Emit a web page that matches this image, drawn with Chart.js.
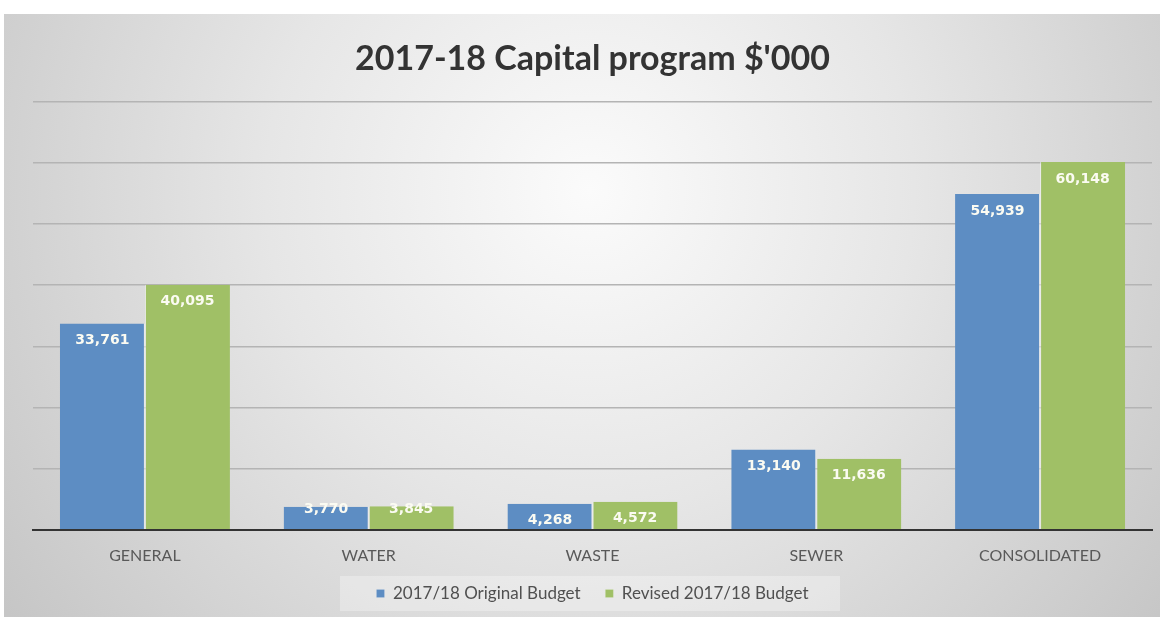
<!DOCTYPE html>
<html>
<head>
<meta charset="utf-8">
<script src="https://cdn.jsdelivr.net/npm/chart.js@4"></script>
<style>
  html, body { margin: 0; padding: 0; background: #fff; }
  #wrap { width: 1160px; height: 617px; }
</style>
</head>
<body>
<div id="wrap"><canvas id="myChart"></canvas></div>
<script>
const categories = ['GENERAL', 'WATER', 'WASTE', 'SEWER', 'CONSOLIDATED']
const originalBudget = [33761, 3770, 4268, 13140, 54939]
const revisedBudget = [40095, 3845, 4572, 11636, 60148]
const seriesNames = ['2017/18 Original Budget', 'Revised 2017/18 Budget']

// gray radial background + light box behind the legend
const backdrop = {
    id: 'backdrop',
    beforeDraw(chart) {
        const c = chart.ctx
        c.save()
        c.fillStyle = '#ffffff'
        c.fillRect(0, 0, chart.width, chart.height)
        const g = c.createRadialGradient(590, 190, 0, 590, 190, 720)
        g.addColorStop(0, '#fbfbfb')
        g.addColorStop(0.45, '#e6e6e6')
        g.addColorStop(1, '#c6c6c6')
        c.fillStyle = g
        c.fillRect(4, 14, chart.width - 4, chart.height - 14)
        c.fillStyle = 'rgba(255,255,255,0.3)'
        c.fillRect(340, 576, 500, 35)
        c.restore()
    }
}

// value labels inside the top of each bar
const barLabels = {
    id: 'barLabels',
    afterDatasetsDraw(chart) {
        const c = chart.ctx
        c.save()
        c.font = 'bold 14px "DejaVu Sans"'
        c.fillStyle = '#fbfbf2'
        c.textAlign = 'center'
        c.textBaseline = 'middle'
        chart.data.datasets.forEach((ds, i) => {
            chart.getDatasetMeta(i).data.forEach((bar, j) => {
                const h = bar.base - bar.y
                const y = h < 25 ? bar.y + 3 : bar.y + 17
                c.fillText(ds.data[j].toLocaleString('en-US'), bar.x, y)
            })
        })
        c.restore()
    }
}

try {
    var ctx = document.getElementById('myChart').getContext('2d')
    var myChart = new Chart(ctx, {
        type: 'bar',
        data: {
            labels: categories,
            datasets: [{
                label: seriesNames[0],
                data: originalBudget,
                backgroundColor: '#5d8dc3',
                borderColor: 'rgba(255,255,255,0.5)',
                borderWidth: {left: 0, right: 1, top: 0, bottom: 0},
                categoryPercentage: 0.76,
                barPercentage: 1
            }, {
                label: seriesNames[1],
                data: revisedBudget,
                backgroundColor: '#a0c066',
                borderColor: 'rgba(255,255,255,0.5)',
                borderWidth: {left: 1, right: 0, top: 0, bottom: 0},
                categoryPercentage: 0.76,
                barPercentage: 1
            }]
        },
        options: {
            responsive: true,
            maintainAspectRatio: false,
            animation: false,
            layout: {
                padding: {left: 33, right: 8, top: 0, bottom: 5}
            },
            plugins: {
                title: {
                    display: true,
                    text: "2017-18 Capital program $'000",
                    font: {family: 'Lato', size: 34, weight: 'bold'},
                    color: '#333333',
                    padding: {top: 39, bottom: 22}
                },
                legend: {
                    position: 'bottom',
                    labels: {
                        font: {family: 'Lato', size: 17},
                        color: '#505050',
                        boxWidth: 8,
                        boxHeight: 8,
                        padding: 12,
                        generateLabels(chart) {
                            const items = Chart.defaults.plugins.legend.labels.generateLabels(chart)
                            // wider gap after the first entry, like the original
                            items[0].text = items[0].text + '\u2003'
                            return items
                        }
                    }
                },
                tooltip: {enabled: false}
            },
            scales: {
                x: {
                    grid: {display: false},
                    border: {display: true, color: '#333333', width: 2},
                    ticks: {
                        font: {family: 'Lato', size: 16},
                        color: '#595959',
                        padding: 8
                    }
                },
                y: {
                    min: 0,
                    max: 70000,
                    ticks: {display: false, stepSize: 10000},
                    grid: {color: '#b4b4b4', lineWidth: 1.5, drawTicks: false},
                    border: {display: false}
                }
            }
        },
        plugins: [backdrop, barLabels]
    })
} catch (error) {
    console.log(error)
}
</script>
</body>
</html>
